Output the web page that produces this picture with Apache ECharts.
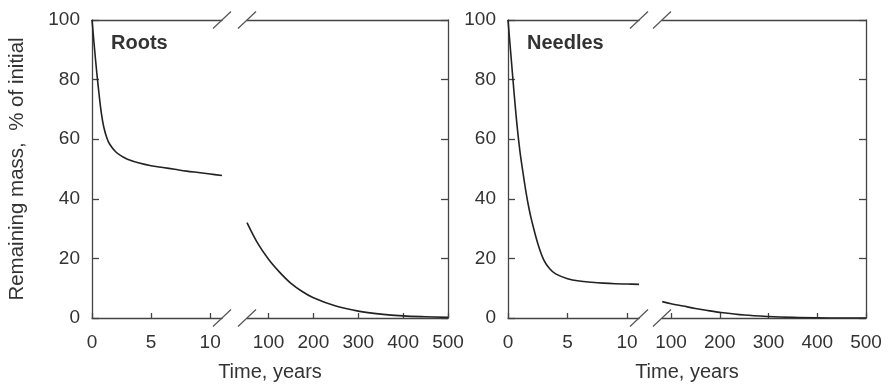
<!DOCTYPE html>
<html><head><meta charset="utf-8">
<script src="https://cdn.jsdelivr.net/npm/echarts@6/dist/echarts.min.js"></script>
<style>html,body{margin:0;padding:0;background:#fff}#c{width:889px;height:384px}</style>
</head><body><div id="c"></div>
<script>
// ---- data ----
const yTicks = [0, 20, 40, 60, 80, 100];
const earlyTicks = [0, 5, 10];
const lateTicks = [100, 200, 300, 400, 500];
const panelNames = ['Roots', 'Needles'];
const xTitle = 'Time, years';
const yTitle = 'Remaining mass,  % of initial';

const rootsEarlyYears = [0, 0.2, 0.4, 0.6, 0.8, 1, 1.25, 1.5, 2, 2.5, 3, 4, 5, 6, 7, 8, 9, 10, 11];
const rootsEarlyMass  = [100, 91, 82.5, 75, 68.5, 64, 60.5, 58.3, 55.8, 54.3, 53.3, 52, 51.1, 50.5, 49.9, 49.3, 48.8, 48.3, 47.8];
const rootsLateYears  = [52, 75, 100, 125, 150, 175, 200, 250, 300, 350, 400, 450, 500];
const rootsLateMass   = [32, 25.3, 19.7, 15.3, 11.6, 8.9, 6.8, 4.0, 2.3, 1.3, 0.7, 0.4, 0.2];

const needlesEarlyYears = [0, 0.25, 0.5, 0.75, 1, 1.25, 1.5, 1.75, 2, 2.5, 3, 3.5, 4, 5, 6, 7, 8, 9, 10, 11];
const needlesEarlyMass  = [100, 88, 76, 65, 56, 49, 42.5, 37, 32.5, 25, 19.5, 16.5, 14.8, 13.2, 12.4, 12, 11.7, 11.5, 11.4, 11.3];
const needlesLateYears  = [82, 100, 125, 150, 175, 200, 250, 300, 350, 400, 450, 500];
const needlesLateMass   = [5.5, 4.8, 4.0, 3.2, 2.5, 1.9, 1.0, 0.5, 0.2, 0.05, 0, 0];

const earlyRange = [0, 11];
const rootsLateRange = [52, 500];
const needlesLateRange = [81.5, 500];

// ---- layout ----
const TOP = 20, BOTTOM = 318;
const panels = [
  { left: 92, breakL: 222, breakR: 247, right: 448, late: rootsLateRange,
    early: [rootsEarlyYears, rootsEarlyMass], lateData: [rootsLateYears, rootsLateMass] },
  { left: 508, breakL: 639, breakR: 662, right: 866, late: needlesLateRange,
    early: [needlesEarlyYears, needlesEarlyMass], lateData: [needlesLateYears, needlesLateMass] }
];
const FONT = 'Liberation Sans, Arial, sans-serif';
const TXT = '#333';
const AX = '#444';
const zip = (a, b) => a.map((v, i) => [v, b[i]]);

const grid = [], xAxis = [], yAxis = [], series = [], graphic = [];
const axLine = { show: true, onZero: false, lineStyle: { color: AX, width: 1.3 } };

panels.forEach((p, pi) => {
  const segs = [
    { l: p.left, r: p.breakL, range: earlyRange, ticks: earlyTicks, data: p.early, side: 'left' },
    { l: p.breakR, r: p.right, range: p.late, ticks: lateTicks, data: p.lateData, side: 'right' }
  ];
  segs.forEach((s, si) => {
    const gi = grid.length;
    grid.push({ left: s.l, top: TOP, width: s.r - s.l, height: BOTTOM - TOP, containLabel: false });
    xAxis.push({
      type: 'value', gridIndex: gi, position: 'bottom', min: s.range[0], max: s.range[1],
      axisLine: axLine,
      axisTick: { show: true, inside: true, length: 5, customValues: s.ticks, lineStyle: { color: AX, width: 1.3 } },
      axisLabel: { show: true, customValues: s.ticks, margin: 15, fontSize: 19, color: TXT, fontFamily: FONT },
      splitLine: { show: false }
    });
    const bx = xAxis.length - 1;
    xAxis.push({
      type: 'value', gridIndex: gi, position: 'top', min: s.range[0], max: s.range[1],
      axisLine: axLine, axisTick: { show: false }, axisLabel: { show: false }, splitLine: { show: false }
    });
    yAxis.push({
      type: 'value', gridIndex: gi, position: s.side, min: 0, max: 100, interval: 20,
      axisLine: axLine,
      axisTick: { show: true, inside: true, length: 7, lineStyle: { color: AX, width: 1.3 } },
      axisLabel: { show: s.side === 'left', margin: 12, fontSize: 19, color: TXT, fontFamily: FONT },
      splitLine: { show: false },
      name: (pi === 0 && si === 0) ? yTitle : '',
      nameLocation: 'middle', nameGap: 64,
      nameTextStyle: { fontSize: 20.5, color: TXT, fontFamily: FONT }
    });
    series.push({
      type: 'line', xAxisIndex: bx, yAxisIndex: yAxis.length - 1,
      data: zip(s.data[0], s.data[1]), smooth: 0.35, showSymbol: false, silent: true,
      lineStyle: { color: '#222', width: 1.6 }
    });
  });
  [p.breakL, p.breakR].forEach(x => {
    [TOP, BOTTOM].forEach(y => {
      graphic.push({ type: 'line', silent: true, z: 100,
        shape: { x1: x - 9, y1: y + 8.5, x2: x + 9, y2: y - 8.5 },
        style: { stroke: '#555', lineWidth: 1.2 } });
    });
  });
  graphic.push({ type: 'text', silent: true, x: p.left + 19, y: 43,
    style: { text: panelNames[pi], font: 'bold 20px ' + FONT, fill: '#333', textVerticalAlign: 'middle' } });
  graphic.push({ type: 'text', silent: true, x: (p.left + p.right) / 2, y: 372,
    style: { text: xTitle, font: '20px ' + FONT, fill: TXT, textAlign: 'center', textVerticalAlign: 'middle' } });
});

const chart = echarts.init(document.getElementById('c'), null, { renderer: 'canvas' });
chart.setOption({ animation: false, backgroundColor: '#fff', grid, xAxis, yAxis, series, graphic });
</script></body></html>
